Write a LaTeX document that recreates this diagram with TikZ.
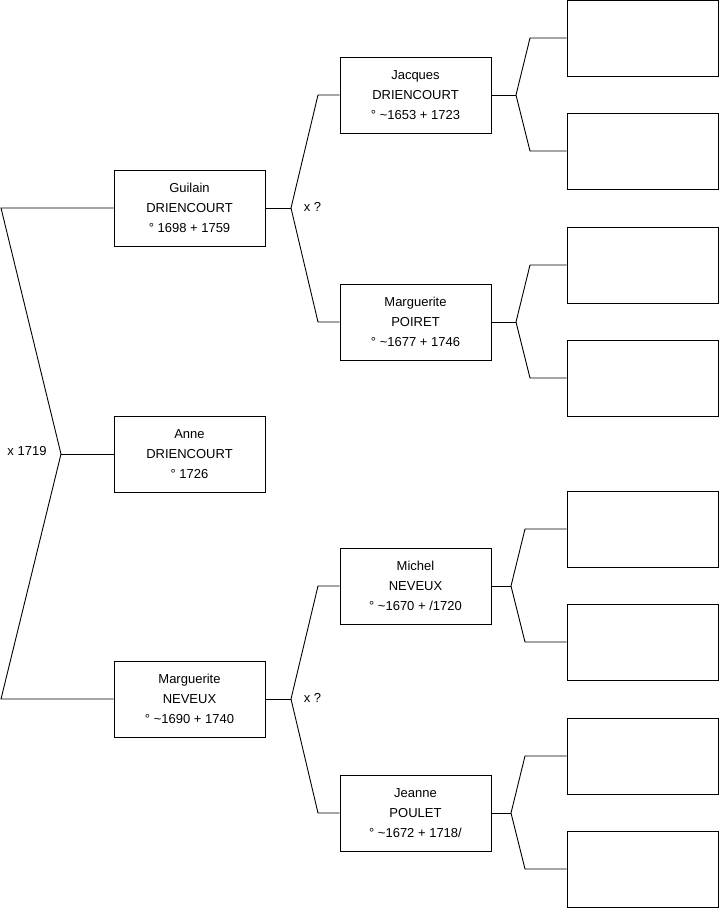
\documentclass[tikz,border=0pt]{standalone}
\usepackage{fontspec}
\setmainfont{Liberation Sans}
\begin{document}
\begin{tikzpicture}[x=1pt,y=-1pt,
  person/.style={draw, line width=0.9pt, minimum width=151pt, minimum height=76pt, inner sep=0pt, align=center, font=\fontsize{13}{20}\selectfont},
  link/.style={draw, line width=0.9pt},
  lbl/.style={font=\fontsize{13}{14}\selectfont, inner sep=0pt}]
\useasboundingbox (0,0) rectangle (719,908);
% generation 1
\node[person] (anne) at (189.5,454) {Anne\\DRIENCOURT\\° 1726};
% generation 2
\node[person] (guilain) at (189.5,208) {Guilain\\DRIENCOURT\\° 1698 + 1759};
\node[person] (margN) at (189.5,699) {Marguerite\\NEVEUX\\° \textasciitilde1690 + 1740};
% generation 3
\node[person] (jacques) at (415.5,95) {Jacques\\DRIENCOURT\\° \textasciitilde1653 + 1723};
\node[person] (margP) at (415.5,322) {Marguerite\\POIRET\\° \textasciitilde1677 + 1746};
\node[person] (michel) at (415.5,586) {Michel\\NEVEUX\\° \textasciitilde1670 + /1720};
\node[person] (jeanne) at (415.5,813) {Jeanne\\POULET\\° \textasciitilde1672 + 1718/};
% generation 4 (empty)
\node[person] (e1) at (642.5,38) {};
\node[person] (e2) at (642.5,151) {};
\node[person] (e3) at (642.5,265) {};
\node[person] (e4) at (642.5,378) {};
\node[person] (e5) at (642.5,529) {};
\node[person] (e6) at (642.5,642) {};
\node[person] (e7) at (642.5,756) {};
\node[person] (e8) at (642.5,869) {};
% couple anne
\coordinate (a0) at (61,454);
\coordinate (a1) at (1,208);
\coordinate (a2) at (1,699);
\draw[link] (anne.west) -- (a0);
\draw[link] (guilain.west) -- (a1) -- (a0) -- (a2) -- (margN.west);
\node[lbl] (m1) at (27,451) {x 1719};
% couple guilain
\coordinate (g0) at (291,208);
\coordinate (g1) at (318,95);
\coordinate (g2) at (318,322);
\draw[link] (guilain.east) -- (g0);
\draw[link] (jacques.west) -- (g1) -- (g0) -- (g2) -- (margP.west);
\node[lbl] (m2) at (312.5,207) {x ?};
% couple margN
\coordinate (n0) at (291,699);
\coordinate (n1) at (318,586);
\coordinate (n2) at (318,813);
\draw[link] (margN.east) -- (n0);
\draw[link] (michel.west) -- (n1) -- (n0) -- (n2) -- (jeanne.west);
\node[lbl] (m3) at (312.5,698) {x ?};
% jacques parents
\coordinate (j0) at (516,95);
\coordinate (j1) at (530,38);
\coordinate (j2) at (530,151);
\draw[link] (jacques.east) -- (j0);
\draw[link] (e1.west) -- (j1) -- (j0) -- (j2) -- (e2.west);
% margP parents
\coordinate (p0) at (516,322);
\coordinate (p1) at (530,265);
\coordinate (p2) at (530,378);
\draw[link] (margP.east) -- (p0);
\draw[link] (e3.west) -- (p1) -- (p0) -- (p2) -- (e4.west);
% michel parents
\coordinate (c0) at (511,586);
\coordinate (c1) at (525,529);
\coordinate (c2) at (525,642);
\draw[link] (michel.east) -- (c0);
\draw[link] (e5.west) -- (c1) -- (c0) -- (c2) -- (e6.west);
% jeanne parents
\coordinate (d0) at (511,813);
\coordinate (d1) at (525,756);
\coordinate (d2) at (525,869);
\draw[link] (jeanne.east) -- (d0);
\draw[link] (e7.west) -- (d1) -- (d0) -- (d2) -- (e8.west);
\end{tikzpicture}
\end{document}
